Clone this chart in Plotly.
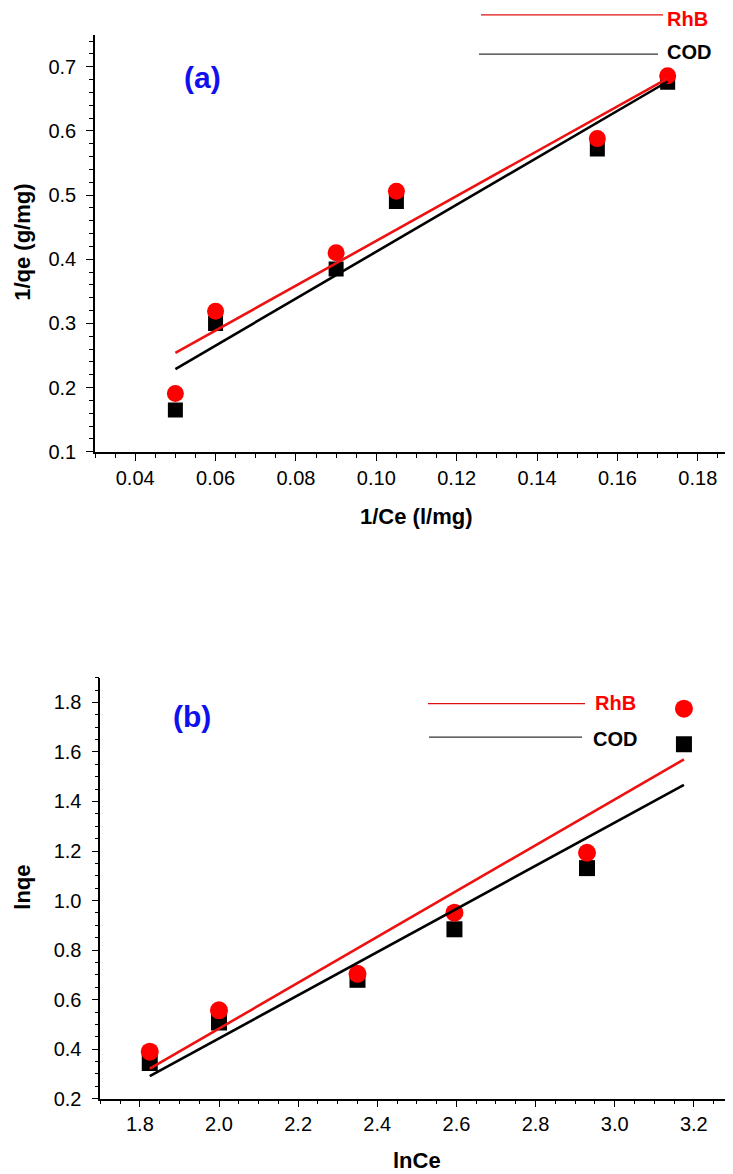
import plotly.graph_objects as go

# ---------------- data: panel (a) ----------------
inv_ce = [0.05, 0.06, 0.09, 0.105, 0.155, 0.1725]
inv_qe_rhb = [0.191, 0.319, 0.410, 0.506, 0.588, 0.686]
inv_qe_cod = [0.165, 0.300, 0.385, 0.490, 0.572, 0.676]
fit_a_x = [0.05, 0.1725]
fit_a_rhb = [0.254, 0.682]
fit_a_cod = [0.229, 0.677]

# ---------------- data: panel (b) ----------------
ln_ce = [1.825, 2.0, 2.35, 2.595, 2.93, 3.175]
ln_qe_rhb = [0.390, 0.557, 0.704, 0.951, 1.193, 1.775]
ln_qe_cod = [0.344, 0.508, 0.680, 0.884, 1.131, 1.631]
fit_b_x = [1.825, 3.175]
fit_b_rhb = [0.321, 1.570]
fit_b_cod = [0.291, 1.467]

series_names = ["RhB", "COD"]

W, H = 733, 1174
RED = "#ff0000"
BLACK = "#000000"
FONT = "Liberation Sans, Arial, sans-serif"

fig = go.Figure()

def add_panel(xs, y_rhb, y_cod, fx, f_rhb, f_cod, xa, ya, msize_c, msize_s):
    fig.add_trace(go.Scatter(x=xs, y=y_cod, mode="markers", xaxis=xa, yaxis=ya,
                             marker=dict(symbol="square", size=msize_s, color=BLACK),
                             showlegend=False))
    fig.add_trace(go.Scatter(x=xs, y=y_rhb, mode="markers", xaxis=xa, yaxis=ya,
                             marker=dict(symbol="circle", size=msize_c, color=RED),
                             showlegend=False))
    fig.add_trace(go.Scatter(x=fx, y=f_cod, mode="lines", xaxis=xa, yaxis=ya,
                             line=dict(color=BLACK, width=2.6), showlegend=False))
    fig.add_trace(go.Scatter(x=fx, y=f_rhb, mode="lines", xaxis=xa, yaxis=ya,
                             line=dict(color="#ee1111", width=2.6), showlegend=False))

add_panel(inv_ce, inv_qe_rhb, inv_qe_cod, fit_a_x, fit_a_rhb, fit_a_cod, "x", "y", 17, 15)
add_panel(ln_ce, ln_qe_rhb, ln_qe_cod, fit_b_x, fit_b_rhb, fit_b_cod, "x2", "y2", 18, 16)

def px_x(p):
    return p / W

def px_y(p):
    return 1 - p / H

axis_common = dict(showline=True, linecolor="black", linewidth=1.6, mirror=False,
                   showgrid=False, zeroline=False, ticks="outside", ticklen=7,
                   tickwidth=1.4, tickcolor="black",
                   tickfont=dict(family=FONT, size=20, color="black"),
                   minor=dict(ticks="outside", ticklen=4, tickwidth=1.2, tickcolor="black"))

fig.update_layout(
    width=W, height=H, autosize=False,
    margin=dict(l=0, r=0, t=0, b=0),
    paper_bgcolor="white", plot_bgcolor="white",
    xaxis=dict(domain=[px_x(87), px_x(730)], range=[0.03, 0.19], dtick=0.02,
               tickformat=".2f", anchor="y", **axis_common),
    yaxis=dict(domain=[px_y(448), px_y(26.9)], range=[0.1, 0.75], dtick=0.1,
               tickformat=".1f", anchor="x", ticklabelstandoff=6, **axis_common),
    xaxis2=dict(domain=[px_x(92.3), px_x(725.4)], range=[1.7, 3.3], dtick=0.2,
                tickformat=".1f", anchor="y2", **axis_common),
    yaxis2=dict(domain=[px_y(1101), px_y(676)], range=[0.2, 1.9], dtick=0.2,
                tickformat=".1f", anchor="x2", ticklabelstandoff=6, **axis_common),
)

annotations = []
def ann(text, x, y, size, color="black", bold=True, angle=0, xanchor="center"):
    annotations.append(dict(text=f"<b>{text}</b>" if bold else text, x=px_x(x), y=px_y(y),
                            xref="paper", yref="paper", showarrow=False, textangle=angle,
                            xanchor=xanchor, yanchor="middle",
                            font=dict(family=FONT, size=size, color=color)))

# axis titles
ann("1/Ce (l/mg)", 408, 513, 22)
ann("1/qe (g/mg)", 15, 237, 22, angle=-90)
ann("lnCe", 409, 1163, 22)
ann("lnqe", 15, 888, 22, angle=-90)
# panel labels
ann("(a)", 194, 70, 30, color="#1010ee")
ann("(b)", 184, 715, 30, color="#1010ee")
# legend texts
ann(series_names[0], 657, 11, 20, color=RED, xanchor="left")
ann(series_names[1], 657, 44, 20, color=BLACK, xanchor="left")
ann(series_names[0], 585, 702, 20, color=RED, xanchor="left")
ann(series_names[1], 583, 738, 20, color=BLACK, xanchor="left")
fig.update_layout(annotations=annotations)

shapes = []
def seg(x0, x1, y, color):
    shapes.append(dict(type="line", xref="paper", yref="paper",
                       x0=px_x(x0), x1=px_x(x1), y0=px_y(y), y1=px_y(y),
                       line=dict(color=color, width=1.2)))
seg(473, 655, 7, "#e01010")
seg(471, 650, 46.5, "#333333")
seg(420, 577, 702.3, "#e01010")
seg(421, 574, 736, "#333333")
fig.update_layout(shapes=shapes)

fig.write_html("out.html")
